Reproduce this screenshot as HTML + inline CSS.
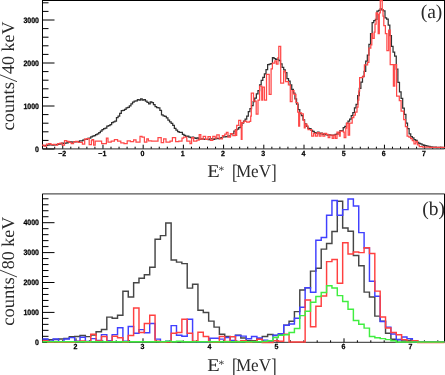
<!DOCTYPE html>
<html><head><meta charset="utf-8"><style>
html,body{margin:0;padding:0;background:#fff;}
body{width:445px;height:375px;overflow:hidden;position:relative;font-family:"Liberation Sans",sans-serif;}
#w{position:absolute;left:0;top:0;width:445px;height:375px;will-change:transform;}
svg{position:absolute;left:0;top:0;}
</style></head><body>
<div id="w"><svg width="445" height="375" viewBox="0 0 445 375">
<line x1="42.50" y1="0.50" x2="444.50" y2="0.50" stroke="#000" stroke-width="1"/>
<line x1="42.50" y1="0.00" x2="42.50" y2="149.00" stroke="#000" stroke-width="1"/>
<line x1="444.50" y1="0.00" x2="444.50" y2="149.00" stroke="#000" stroke-width="1"/>
<line x1="42.50" y1="148.80" x2="444.50" y2="148.80" stroke="#555" stroke-width="1.3"/>
<line x1="42.50" y1="193.80" x2="444.50" y2="193.80" stroke="#555" stroke-width="1.2"/>
<line x1="42.50" y1="193.80" x2="42.50" y2="342.30" stroke="#000" stroke-width="1"/>
<line x1="444.50" y1="193.80" x2="444.50" y2="342.30" stroke="#000" stroke-width="1"/>
<line x1="42.50" y1="342.30" x2="444.50" y2="342.30" stroke="#555" stroke-width="1.2"/>
<line x1="42.50" y1="149.00" x2="54.50" y2="149.00" stroke="#000" stroke-width="1"/>
<line x1="42.50" y1="140.40" x2="48.50" y2="140.40" stroke="#000" stroke-width="1"/>
<line x1="42.50" y1="131.80" x2="48.50" y2="131.80" stroke="#000" stroke-width="1"/>
<line x1="42.50" y1="123.20" x2="48.50" y2="123.20" stroke="#000" stroke-width="1"/>
<line x1="42.50" y1="114.60" x2="48.50" y2="114.60" stroke="#000" stroke-width="1"/>
<line x1="42.50" y1="106.00" x2="54.50" y2="106.00" stroke="#000" stroke-width="1"/>
<line x1="42.50" y1="97.40" x2="48.50" y2="97.40" stroke="#000" stroke-width="1"/>
<line x1="42.50" y1="88.80" x2="48.50" y2="88.80" stroke="#000" stroke-width="1"/>
<line x1="42.50" y1="80.20" x2="48.50" y2="80.20" stroke="#000" stroke-width="1"/>
<line x1="42.50" y1="71.60" x2="48.50" y2="71.60" stroke="#000" stroke-width="1"/>
<line x1="42.50" y1="63.00" x2="54.50" y2="63.00" stroke="#000" stroke-width="1"/>
<line x1="42.50" y1="54.40" x2="48.50" y2="54.40" stroke="#000" stroke-width="1"/>
<line x1="42.50" y1="45.80" x2="48.50" y2="45.80" stroke="#000" stroke-width="1"/>
<line x1="42.50" y1="37.20" x2="48.50" y2="37.20" stroke="#000" stroke-width="1"/>
<line x1="42.50" y1="28.60" x2="48.50" y2="28.60" stroke="#000" stroke-width="1"/>
<line x1="42.50" y1="20.00" x2="54.50" y2="20.00" stroke="#000" stroke-width="1"/>
<line x1="42.50" y1="11.40" x2="48.50" y2="11.40" stroke="#000" stroke-width="1"/>
<line x1="42.50" y1="2.80" x2="48.50" y2="2.80" stroke="#000" stroke-width="1"/>
<line x1="46.67" y1="148.70" x2="46.67" y2="146.70" stroke="#000" stroke-width="1"/>
<line x1="54.71" y1="148.70" x2="54.71" y2="146.70" stroke="#000" stroke-width="1"/>
<line x1="62.75" y1="148.70" x2="62.75" y2="144.70" stroke="#000" stroke-width="1"/>
<line x1="70.80" y1="148.70" x2="70.80" y2="146.70" stroke="#000" stroke-width="1"/>
<line x1="78.84" y1="148.70" x2="78.84" y2="146.70" stroke="#000" stroke-width="1"/>
<line x1="86.88" y1="148.70" x2="86.88" y2="146.70" stroke="#000" stroke-width="1"/>
<line x1="94.92" y1="148.70" x2="94.92" y2="146.70" stroke="#000" stroke-width="1"/>
<line x1="102.97" y1="148.70" x2="102.97" y2="144.70" stroke="#000" stroke-width="1"/>
<line x1="111.01" y1="148.70" x2="111.01" y2="146.70" stroke="#000" stroke-width="1"/>
<line x1="119.05" y1="148.70" x2="119.05" y2="146.70" stroke="#000" stroke-width="1"/>
<line x1="127.09" y1="148.70" x2="127.09" y2="146.70" stroke="#000" stroke-width="1"/>
<line x1="135.13" y1="148.70" x2="135.13" y2="146.70" stroke="#000" stroke-width="1"/>
<line x1="143.18" y1="148.70" x2="143.18" y2="144.70" stroke="#000" stroke-width="1"/>
<line x1="151.22" y1="148.70" x2="151.22" y2="146.70" stroke="#000" stroke-width="1"/>
<line x1="159.26" y1="148.70" x2="159.26" y2="146.70" stroke="#000" stroke-width="1"/>
<line x1="167.30" y1="148.70" x2="167.30" y2="146.70" stroke="#000" stroke-width="1"/>
<line x1="175.34" y1="148.70" x2="175.34" y2="146.70" stroke="#000" stroke-width="1"/>
<line x1="183.39" y1="148.70" x2="183.39" y2="144.70" stroke="#000" stroke-width="1"/>
<line x1="191.43" y1="148.70" x2="191.43" y2="146.70" stroke="#000" stroke-width="1"/>
<line x1="199.47" y1="148.70" x2="199.47" y2="146.70" stroke="#000" stroke-width="1"/>
<line x1="207.51" y1="148.70" x2="207.51" y2="146.70" stroke="#000" stroke-width="1"/>
<line x1="215.55" y1="148.70" x2="215.55" y2="146.70" stroke="#000" stroke-width="1"/>
<line x1="223.59" y1="148.70" x2="223.59" y2="144.70" stroke="#000" stroke-width="1"/>
<line x1="231.64" y1="148.70" x2="231.64" y2="146.70" stroke="#000" stroke-width="1"/>
<line x1="239.68" y1="148.70" x2="239.68" y2="146.70" stroke="#000" stroke-width="1"/>
<line x1="247.72" y1="148.70" x2="247.72" y2="146.70" stroke="#000" stroke-width="1"/>
<line x1="255.76" y1="148.70" x2="255.76" y2="146.70" stroke="#000" stroke-width="1"/>
<line x1="263.81" y1="148.70" x2="263.81" y2="144.70" stroke="#000" stroke-width="1"/>
<line x1="271.85" y1="148.70" x2="271.85" y2="146.70" stroke="#000" stroke-width="1"/>
<line x1="279.89" y1="148.70" x2="279.89" y2="146.70" stroke="#000" stroke-width="1"/>
<line x1="287.93" y1="148.70" x2="287.93" y2="146.70" stroke="#000" stroke-width="1"/>
<line x1="295.97" y1="148.70" x2="295.97" y2="146.70" stroke="#000" stroke-width="1"/>
<line x1="304.01" y1="148.70" x2="304.01" y2="144.70" stroke="#000" stroke-width="1"/>
<line x1="312.06" y1="148.70" x2="312.06" y2="146.70" stroke="#000" stroke-width="1"/>
<line x1="320.10" y1="148.70" x2="320.10" y2="146.70" stroke="#000" stroke-width="1"/>
<line x1="328.14" y1="148.70" x2="328.14" y2="146.70" stroke="#000" stroke-width="1"/>
<line x1="336.18" y1="148.70" x2="336.18" y2="146.70" stroke="#000" stroke-width="1"/>
<line x1="344.22" y1="148.70" x2="344.22" y2="144.70" stroke="#000" stroke-width="1"/>
<line x1="352.27" y1="148.70" x2="352.27" y2="146.70" stroke="#000" stroke-width="1"/>
<line x1="360.31" y1="148.70" x2="360.31" y2="146.70" stroke="#000" stroke-width="1"/>
<line x1="368.35" y1="148.70" x2="368.35" y2="146.70" stroke="#000" stroke-width="1"/>
<line x1="376.39" y1="148.70" x2="376.39" y2="146.70" stroke="#000" stroke-width="1"/>
<line x1="384.44" y1="148.70" x2="384.44" y2="144.70" stroke="#000" stroke-width="1"/>
<line x1="392.48" y1="148.70" x2="392.48" y2="146.70" stroke="#000" stroke-width="1"/>
<line x1="400.52" y1="148.70" x2="400.52" y2="146.70" stroke="#000" stroke-width="1"/>
<line x1="408.56" y1="148.70" x2="408.56" y2="146.70" stroke="#000" stroke-width="1"/>
<line x1="416.60" y1="148.70" x2="416.60" y2="146.70" stroke="#000" stroke-width="1"/>
<line x1="424.64" y1="148.70" x2="424.64" y2="144.70" stroke="#000" stroke-width="1"/>
<line x1="432.69" y1="148.70" x2="432.69" y2="146.70" stroke="#000" stroke-width="1"/>
<line x1="440.73" y1="148.70" x2="440.73" y2="146.70" stroke="#000" stroke-width="1"/>
<line x1="42.50" y1="342.30" x2="54.50" y2="342.30" stroke="#000" stroke-width="1"/>
<line x1="42.50" y1="336.32" x2="48.50" y2="336.32" stroke="#000" stroke-width="1"/>
<line x1="42.50" y1="330.34" x2="48.50" y2="330.34" stroke="#000" stroke-width="1"/>
<line x1="42.50" y1="324.36" x2="48.50" y2="324.36" stroke="#000" stroke-width="1"/>
<line x1="42.50" y1="318.38" x2="48.50" y2="318.38" stroke="#000" stroke-width="1"/>
<line x1="42.50" y1="312.40" x2="54.50" y2="312.40" stroke="#000" stroke-width="1"/>
<line x1="42.50" y1="306.42" x2="48.50" y2="306.42" stroke="#000" stroke-width="1"/>
<line x1="42.50" y1="300.44" x2="48.50" y2="300.44" stroke="#000" stroke-width="1"/>
<line x1="42.50" y1="294.46" x2="48.50" y2="294.46" stroke="#000" stroke-width="1"/>
<line x1="42.50" y1="288.48" x2="48.50" y2="288.48" stroke="#000" stroke-width="1"/>
<line x1="42.50" y1="282.50" x2="54.50" y2="282.50" stroke="#000" stroke-width="1"/>
<line x1="42.50" y1="276.52" x2="48.50" y2="276.52" stroke="#000" stroke-width="1"/>
<line x1="42.50" y1="270.54" x2="48.50" y2="270.54" stroke="#000" stroke-width="1"/>
<line x1="42.50" y1="264.56" x2="48.50" y2="264.56" stroke="#000" stroke-width="1"/>
<line x1="42.50" y1="258.58" x2="48.50" y2="258.58" stroke="#000" stroke-width="1"/>
<line x1="42.50" y1="252.60" x2="54.50" y2="252.60" stroke="#000" stroke-width="1"/>
<line x1="42.50" y1="246.62" x2="48.50" y2="246.62" stroke="#000" stroke-width="1"/>
<line x1="42.50" y1="240.64" x2="48.50" y2="240.64" stroke="#000" stroke-width="1"/>
<line x1="42.50" y1="234.66" x2="48.50" y2="234.66" stroke="#000" stroke-width="1"/>
<line x1="42.50" y1="228.68" x2="48.50" y2="228.68" stroke="#000" stroke-width="1"/>
<line x1="42.50" y1="222.70" x2="54.50" y2="222.70" stroke="#000" stroke-width="1"/>
<line x1="42.50" y1="216.72" x2="48.50" y2="216.72" stroke="#000" stroke-width="1"/>
<line x1="42.50" y1="210.74" x2="48.50" y2="210.74" stroke="#000" stroke-width="1"/>
<line x1="42.50" y1="204.76" x2="48.50" y2="204.76" stroke="#000" stroke-width="1"/>
<line x1="42.50" y1="198.78" x2="48.50" y2="198.78" stroke="#000" stroke-width="1"/>
<line x1="49.20" y1="342.30" x2="49.20" y2="340.30" stroke="#000" stroke-width="1"/>
<line x1="62.60" y1="342.30" x2="62.60" y2="340.30" stroke="#000" stroke-width="1"/>
<line x1="76.00" y1="342.30" x2="76.00" y2="338.30" stroke="#000" stroke-width="1"/>
<line x1="89.40" y1="342.30" x2="89.40" y2="340.30" stroke="#000" stroke-width="1"/>
<line x1="102.80" y1="342.30" x2="102.80" y2="340.30" stroke="#000" stroke-width="1"/>
<line x1="116.20" y1="342.30" x2="116.20" y2="340.30" stroke="#000" stroke-width="1"/>
<line x1="129.60" y1="342.30" x2="129.60" y2="340.30" stroke="#000" stroke-width="1"/>
<line x1="143.00" y1="342.30" x2="143.00" y2="338.30" stroke="#000" stroke-width="1"/>
<line x1="156.40" y1="342.30" x2="156.40" y2="340.30" stroke="#000" stroke-width="1"/>
<line x1="169.80" y1="342.30" x2="169.80" y2="340.30" stroke="#000" stroke-width="1"/>
<line x1="183.20" y1="342.30" x2="183.20" y2="340.30" stroke="#000" stroke-width="1"/>
<line x1="196.60" y1="342.30" x2="196.60" y2="340.30" stroke="#000" stroke-width="1"/>
<line x1="210.00" y1="342.30" x2="210.00" y2="338.30" stroke="#000" stroke-width="1"/>
<line x1="223.40" y1="342.30" x2="223.40" y2="340.30" stroke="#000" stroke-width="1"/>
<line x1="236.80" y1="342.30" x2="236.80" y2="340.30" stroke="#000" stroke-width="1"/>
<line x1="250.20" y1="342.30" x2="250.20" y2="340.30" stroke="#000" stroke-width="1"/>
<line x1="263.60" y1="342.30" x2="263.60" y2="340.30" stroke="#000" stroke-width="1"/>
<line x1="277.00" y1="342.30" x2="277.00" y2="338.30" stroke="#000" stroke-width="1"/>
<line x1="290.40" y1="342.30" x2="290.40" y2="340.30" stroke="#000" stroke-width="1"/>
<line x1="303.80" y1="342.30" x2="303.80" y2="340.30" stroke="#000" stroke-width="1"/>
<line x1="317.20" y1="342.30" x2="317.20" y2="340.30" stroke="#000" stroke-width="1"/>
<line x1="330.60" y1="342.30" x2="330.60" y2="340.30" stroke="#000" stroke-width="1"/>
<line x1="344.00" y1="342.30" x2="344.00" y2="338.30" stroke="#000" stroke-width="1"/>
<line x1="357.40" y1="342.30" x2="357.40" y2="340.30" stroke="#000" stroke-width="1"/>
<line x1="370.80" y1="342.30" x2="370.80" y2="340.30" stroke="#000" stroke-width="1"/>
<line x1="384.20" y1="342.30" x2="384.20" y2="340.30" stroke="#000" stroke-width="1"/>
<line x1="397.60" y1="342.30" x2="397.60" y2="340.30" stroke="#000" stroke-width="1"/>
<line x1="411.00" y1="342.30" x2="411.00" y2="338.30" stroke="#000" stroke-width="1"/>
<line x1="424.40" y1="342.30" x2="424.40" y2="340.30" stroke="#000" stroke-width="1"/>
<line x1="437.80" y1="342.30" x2="437.80" y2="340.30" stroke="#000" stroke-width="1"/>
<text font-family="Liberation Sans" font-weight="bold" font-size="7.8" text-rendering="geometricPrecision" stroke="#000" stroke-width="0.25" text-anchor="end" transform="translate(39.00,151.75) scale(0.9,1)">0</text>
<text font-family="Liberation Sans" font-weight="bold" font-size="7.8" text-rendering="geometricPrecision" stroke="#000" stroke-width="0.25" text-anchor="end" transform="translate(39.00,108.75) scale(0.9,1)">1000</text>
<text font-family="Liberation Sans" font-weight="bold" font-size="7.8" text-rendering="geometricPrecision" stroke="#000" stroke-width="0.25" text-anchor="end" transform="translate(39.00,65.75) scale(0.9,1)">2000</text>
<text font-family="Liberation Sans" font-weight="bold" font-size="7.8" text-rendering="geometricPrecision" stroke="#000" stroke-width="0.25" text-anchor="end" transform="translate(39.00,22.75) scale(0.9,1)">3000</text>
<text font-family="Liberation Sans" font-weight="bold" font-size="7.8" text-rendering="geometricPrecision" stroke="#000" stroke-width="0.25" text-anchor="end" transform="translate(39.00,345.05) scale(0.9,1)">0</text>
<text font-family="Liberation Sans" font-weight="bold" font-size="7.8" text-rendering="geometricPrecision" stroke="#000" stroke-width="0.25" text-anchor="end" transform="translate(39.00,315.15) scale(0.9,1)">1000</text>
<text font-family="Liberation Sans" font-weight="bold" font-size="7.8" text-rendering="geometricPrecision" stroke="#000" stroke-width="0.25" text-anchor="end" transform="translate(39.00,285.25) scale(0.9,1)">2000</text>
<text font-family="Liberation Sans" font-weight="bold" font-size="7.8" text-rendering="geometricPrecision" stroke="#000" stroke-width="0.25" text-anchor="end" transform="translate(39.00,255.35) scale(0.9,1)">3000</text>
<text font-family="Liberation Sans" font-weight="bold" font-size="7.8" text-rendering="geometricPrecision" stroke="#000" stroke-width="0.25" text-anchor="end" transform="translate(39.00,225.45) scale(0.9,1)">4000</text>
<text font-family="Liberation Sans" font-weight="bold" font-size="7.4" text-rendering="geometricPrecision" stroke="#000" stroke-width="0.25" text-anchor="middle" transform="translate(62.15,155.90) scale(0.95,1)">&#8722;2</text>
<text font-family="Liberation Sans" font-weight="bold" font-size="7.4" text-rendering="geometricPrecision" stroke="#000" stroke-width="0.25" text-anchor="middle" transform="translate(102.37,155.90) scale(0.95,1)">&#8722;1</text>
<text font-family="Liberation Sans" font-weight="bold" font-size="7.4" text-rendering="geometricPrecision" stroke="#000" stroke-width="0.25" text-anchor="middle" transform="translate(142.58,155.90) scale(0.95,1)">0</text>
<text font-family="Liberation Sans" font-weight="bold" font-size="7.4" text-rendering="geometricPrecision" stroke="#000" stroke-width="0.25" text-anchor="middle" transform="translate(182.79,155.90) scale(0.95,1)">1</text>
<text font-family="Liberation Sans" font-weight="bold" font-size="7.4" text-rendering="geometricPrecision" stroke="#000" stroke-width="0.25" text-anchor="middle" transform="translate(223.00,155.90) scale(0.95,1)">2</text>
<text font-family="Liberation Sans" font-weight="bold" font-size="7.4" text-rendering="geometricPrecision" stroke="#000" stroke-width="0.25" text-anchor="middle" transform="translate(263.20,155.90) scale(0.95,1)">3</text>
<text font-family="Liberation Sans" font-weight="bold" font-size="7.4" text-rendering="geometricPrecision" stroke="#000" stroke-width="0.25" text-anchor="middle" transform="translate(303.41,155.90) scale(0.95,1)">4</text>
<text font-family="Liberation Sans" font-weight="bold" font-size="7.4" text-rendering="geometricPrecision" stroke="#000" stroke-width="0.25" text-anchor="middle" transform="translate(343.62,155.90) scale(0.95,1)">5</text>
<text font-family="Liberation Sans" font-weight="bold" font-size="7.4" text-rendering="geometricPrecision" stroke="#000" stroke-width="0.25" text-anchor="middle" transform="translate(383.83,155.90) scale(0.95,1)">6</text>
<text font-family="Liberation Sans" font-weight="bold" font-size="7.4" text-rendering="geometricPrecision" stroke="#000" stroke-width="0.25" text-anchor="middle" transform="translate(424.04,155.90) scale(0.95,1)">7</text>
<text font-family="Liberation Sans" font-weight="bold" font-size="7.4" text-rendering="geometricPrecision" stroke="#000" stroke-width="0.25" text-anchor="middle" transform="translate(75.40,349.00) scale(0.95,1)">2</text>
<text font-family="Liberation Sans" font-weight="bold" font-size="7.4" text-rendering="geometricPrecision" stroke="#000" stroke-width="0.25" text-anchor="middle" transform="translate(142.40,349.00) scale(0.95,1)">3</text>
<text font-family="Liberation Sans" font-weight="bold" font-size="7.4" text-rendering="geometricPrecision" stroke="#000" stroke-width="0.25" text-anchor="middle" transform="translate(209.40,349.00) scale(0.95,1)">4</text>
<text font-family="Liberation Sans" font-weight="bold" font-size="7.4" text-rendering="geometricPrecision" stroke="#000" stroke-width="0.25" text-anchor="middle" transform="translate(276.40,349.00) scale(0.95,1)">5</text>
<text font-family="Liberation Sans" font-weight="bold" font-size="7.4" text-rendering="geometricPrecision" stroke="#000" stroke-width="0.25" text-anchor="middle" transform="translate(343.40,349.00) scale(0.95,1)">6</text>
<text font-family="Liberation Sans" font-weight="bold" font-size="7.4" text-rendering="geometricPrecision" stroke="#000" stroke-width="0.25" text-anchor="middle" transform="translate(410.40,349.00) scale(0.95,1)">7</text>
<text font-family="Liberation Serif" fill="#2a2a2a" text-rendering="geometricPrecision" font-size="18" transform="translate(207.2,177.10) scale(1.13,1.0)">E</text>
<text font-family="Liberation Serif" fill="#2a2a2a" text-rendering="geometricPrecision" font-size="11.5" transform="translate(218.6,174.30)">*</text>
<text font-family="Liberation Serif" fill="#2a2a2a" text-rendering="geometricPrecision" font-size="18" transform="translate(232.0,179.40) scale(0.9,1.16)">[</text>
<text font-family="Liberation Serif" fill="#2a2a2a" text-rendering="geometricPrecision" font-size="18" transform="translate(235.9,177.10) scale(0.95,1)">MeV</text>
<text font-family="Liberation Serif" fill="#2a2a2a" text-rendering="geometricPrecision" font-size="18" transform="translate(271.2,179.40) scale(0.9,1.16)">]</text>
<text font-family="Liberation Serif" fill="#2a2a2a" text-rendering="geometricPrecision" font-size="18" transform="translate(207.2,371.00) scale(1.13,1.0)">E</text>
<text font-family="Liberation Serif" fill="#2a2a2a" text-rendering="geometricPrecision" font-size="11.5" transform="translate(218.6,368.20)">*</text>
<text font-family="Liberation Serif" fill="#2a2a2a" text-rendering="geometricPrecision" font-size="18" transform="translate(232.0,373.30) scale(0.9,1.16)">[</text>
<text font-family="Liberation Serif" fill="#2a2a2a" text-rendering="geometricPrecision" font-size="18" transform="translate(235.9,371.00) scale(0.95,1)">MeV</text>
<text font-family="Liberation Serif" fill="#2a2a2a" text-rendering="geometricPrecision" font-size="18" transform="translate(271.2,373.30) scale(0.9,1.16)">]</text>
<text font-family="Liberation Serif" fill="#2a2a2a" text-rendering="geometricPrecision" font-size="18" transform="translate(13.7,130.50) rotate(-90) scale(1.03,1)">counts</text>
<text font-family="Liberation Serif" fill="#2a2a2a" text-rendering="geometricPrecision" font-size="18" transform="translate(13.7,74.00) rotate(-90)">40 keV</text>
<line x1="-0.5" y1="74.60" x2="17.0" y2="81.70" stroke="#2a2a2a" stroke-width="0.9"/>
<text font-family="Liberation Serif" fill="#2a2a2a" text-rendering="geometricPrecision" font-size="18" transform="translate(13.7,325.80) rotate(-90) scale(1.03,1)">counts</text>
<text font-family="Liberation Serif" fill="#2a2a2a" text-rendering="geometricPrecision" font-size="18" transform="translate(13.7,269.30) rotate(-90)">80 keV</text>
<line x1="-0.5" y1="269.90" x2="17.0" y2="277.00" stroke="#2a2a2a" stroke-width="0.9"/>
<text font-family="Liberation Serif" fill="#2a2a2a" text-rendering="geometricPrecision" font-size="19.5" x="442.3" y="18.3" text-anchor="end">(a)</text>
<text font-family="Liberation Serif" fill="#2a2a2a" text-rendering="geometricPrecision" font-size="19.5" x="445.0" y="215.4" text-anchor="end">(b)</text>
<path d="M42.50,145.63H44.11V145.60H45.72V145.31H47.32V145.13H48.93V144.90H50.54V144.92H52.15V145.06H53.76V144.81H55.36V144.73H56.97V144.33H58.58V144.11H60.19V143.82H61.80V143.18H63.40V143.48H65.01V143.16H66.62V142.92H68.23V142.16H69.84V141.96H71.44V142.01H73.05V141.95H74.66V141.99H76.27V141.69H77.88V141.51H79.48V140.88H81.09V140.80H82.70V140.22H84.31V139.30H85.92V139.41H87.52V138.48H89.13V138.09H90.74V136.89H92.35V136.21H93.96V135.68H95.56V134.74H97.17V133.92H98.78V132.65H100.39V131.15H102.00V129.70H103.60V128.66H105.21V128.21H106.82V126.14H108.43V125.50H110.04V124.52H111.64V122.56H113.25V121.95H114.86V121.10H116.47V117.61H118.08V116.06H119.68V113.37H121.29V110.73H122.90V110.34H124.51V109.40H126.12V107.98H127.72V107.45H129.33V105.88H130.94V103.95H132.55V102.08H134.16V101.03H135.76V100.88H137.37V99.54H138.98V100.02H140.59V98.79H142.20V100.01H143.80V99.72H145.41V101.17H147.02V102.25H148.63V103.76H150.24V101.98H151.84V102.65H153.45V104.56H155.06V106.69H156.67V107.72H158.28V107.86H159.88V110.39H161.49V114.87H163.10V115.84H164.71V116.44H166.32V117.77H167.92V120.17H169.53V121.90H171.14V123.26H172.75V125.42H174.36V128.33H175.96V130.13H177.57V131.52H179.18V132.29H180.79V132.28H182.40V134.47H184.00V135.48H185.61V136.34H187.22V136.15H188.83V137.00H190.44V137.68H192.04V137.05H193.65V137.82H195.26V138.44H196.87V137.99H198.48V139.15H200.08V139.02H201.69V138.91H203.30V139.15H204.91V139.35H206.52V139.29H208.12V139.58H209.73V138.95H211.34V138.92H212.95V139.25H214.56V138.85H216.16V138.34H217.77V138.57H219.38V138.42H220.99V137.50H222.60V136.88H224.20V136.95H225.81V136.63H227.42V136.17H229.03V135.79H230.64V133.97H232.24V133.55H233.85V131.18H235.46V129.94H237.07V129.03H238.68V127.50H240.28V125.36H241.89V123.11H243.50V121.00H245.11V119.04H246.72V116.20H248.32V111.64H249.93V108.65H251.54V105.59H253.15V101.66H254.76V98.22H256.36V93.81H257.97V90.52H259.58V84.89H261.19V80.49H262.80V77.31H264.40V73.84H266.01V69.51H267.62V64.69H269.23V64.11H270.84V63.68H272.44V57.73H274.05V58.59H275.66V59.39H277.27V59.00H278.88V60.66H280.48V63.78H282.09V67.38H283.70V69.88H285.31V72.60H286.92V78.52H288.52V81.21H290.13V84.87H291.74V89.27H293.35V93.18H294.96V98.87H296.56V104.19H298.17V109.53H299.78V113.56H301.39V115.71H303.00V119.87H304.60V123.92H306.21V126.36H307.82V128.33H309.43V128.69H311.04V130.42H312.64V131.31H314.25V132.55H315.86V133.15H317.47V132.05H319.08V133.76H320.68V133.17H322.29V134.28H323.90V133.85H325.51V134.64H327.12V135.18H328.72V134.89H330.33V135.12H331.94V135.40H333.55V135.24H335.16V134.26H336.76V133.79H338.37V132.55H339.98V130.73H341.59V130.64H343.20V127.68H344.80V126.30H346.41V123.35H348.02V121.13H349.63V119.01H351.24V115.64H352.84V112.67H354.45V107.91H356.06V104.37H357.67V95.71H359.28V88.34H360.88V82.00H362.49V76.57H364.10V71.40H365.71V61.06H367.32V55.14H368.92V44.29H370.53V33.69H372.14V22.73H373.75V20.59H375.36V19.35H376.96V11.11H378.57V10.30H380.18V8.87H381.79V9.99H383.40V10.85H385.00V17.92H386.61V19.16H388.22V25.23H389.83V35.72H391.44V46.34H393.04V52.04H394.65V56.11H396.26V69.00H397.87V82.34H399.48V91.86H401.08V98.36H402.69V108.24H404.30V114.28H405.91V123.20H407.52V128.73H409.12V133.77H410.73V136.65H412.34V137.83H413.95V139.61H415.56V140.42H417.16V142.31H418.77V143.31H420.38V143.92H421.99V144.82H423.60V145.39H425.20V145.66H426.81V146.24H428.42V146.38H430.03V146.80H431.64V147.06H433.24V147.28H434.85V147.19H436.46V147.53H438.07V147.27H439.68V147.43H441.28V147.39H442.89V147.78H444.50" fill="none" stroke="#303030" stroke-width="1.25"/>
<path d="M42.00,145.20H44.20V146.10H46.50V144.10H48.70V143.50H51.00V144.70H53.20V144.30H55.50V145.20H57.70V143.50H60.00V143.00H62.20V145.20H64.50V140.70H66.70V141.30H69.00V142.40H71.20V143.50H73.50V141.90H75.70V141.30H78.00V142.40H80.20V142.40H82.40V144.10H84.70V139.00H86.90V138.50H89.20V144.70H91.40V140.70H92.00V139.60H93.60V145.20H95.20V141.20H100.00V141.20H101.60V143.60H106.40V138.00H108.00V142.00H111.20V141.20H114.40V139.60H117.60V141.20H120.80V142.80H124.00V143.60H127.20V140.90H130.40V141.50H133.60V139.90H136.00V142.00H140.00V136.40H142.00V137.20H144.40V142.00H146.80V138.80H148.40V140.90H151.60V141.20H158.00V137.70H161.20V142.50H163.60V138.80H166.00V142.00H170.00V141.20H172.40V137.70H175.60V141.50H178.80V141.00H182.00V138.00H183.60V137.20H186.80V141.20H190.00V143.60H191.60V138.00H192.00V137.70H193.60V141.20H196.80V140.00H199.20V134.50H200.80V139.00H203.20V136.40H205.60V139.30H208.00V136.70H210.40V140.40H212.80V136.40H215.20V138.00H216.80V134.80H219.20V138.80H222.40V135.60H224.80V134.00H226.40V132.40H228.00V137.20H230.40V133.50H232.80V135.60H235.20V130.00H236.00V135.30H236.70V125.30H238.70V120.40H240.70V126.00H241.30V139.30H242.00V122.70H244.00V121.00H246.70V122.00H249.30V121.30H250.70V116.00H251.30V93.00H253.50V101.00H256.20V114.00H258.00V100.00H259.60V86.00H261.80V100.00H262.60V87.00H264.40V100.00H266.50V74.40H269.20V94.40H271.10V68.80H272.40V63.20H274.80V60.80H276.40V64.00H278.00V57.60H278.80V46.40H280.70V83.20H283.60V71.20H285.50V81.60H288.40V84.80H290.30V101.70H292.10V90.50H294.00V94.30H295.90V102.60H297.70V112.00H298.70V126.00H299.60V112.90H301.50V113.80H303.30V120.40H304.30V127.80H305.20V124.00H307.00V126.00H308.00V129.70H311.70V136.20H313.60V133.40H315.40V136.20H317.30V132.50H319.20V136.20H321.00V133.40H322.90V136.20H324.80V133.40H326.60V134.40H328.20V137.60H329.80V135.20H332.20V138.40H333.80V135.20H335.40V138.40H337.00V132.00H338.60V133.60H339.40V136.00H340.20V131.20H343.40V132.00H344.20V137.60H345.80V128.00H346.60V123.20H348.20V135.20H349.60V123.20H352.20V117.60H353.80V115.20H355.40V112.00H357.00V107.20H358.00V100.00H358.80V91.20H359.60V77.60H362.80V76.00H364.40V64.80H367.60V62.40H368.90V48.00H370.80V44.80H371.80V33.60H372.60V38.40H374.20V32.00H375.00V24.00H376.10V12.80H377.40V14.40H378.20V33.60H379.30V12.80H380.30V0.50H382.20V9.60H383.00V16.00H383.80V25.60H385.40V33.60H386.90V50.50H388.70V30.00H390.20V64.50H393.40V86.00H394.70V64.50H396.60V96.20H399.30V100.60H401.10V111.00H403.70V119.70H405.40V126.60H407.10V136.10H408.90V137.00H410.60V138.70H412.30V140.50H414.00V143.90H415.80V141.30H417.50V144.80H419.30V146.50H422.70V147.00H429.70V147.40H444.50V147.70H444.50" fill="none" stroke="#ff4848" stroke-width="1.25"/>
<path d="M42.50,339.50H47.86V339.80H53.22V339.40H58.58V338.90H63.94V338.50H69.30V336.70H74.66V336.40H80.02V335.50H85.38V336.60H90.74V335.00H96.10V331.70H101.46V329.50H106.82V317.10H112.18V318.20H117.54V315.20H122.90V291.20H128.26V297.00H133.62V282.70H138.98V278.20H144.34V274.80H149.70V267.30H155.06V239.30H160.42V235.60H165.78V222.90H171.14V259.90H176.50V262.10H181.86V263.60H187.22V288.10H192.58V284.30H197.94V310.20H203.30V312.50H208.66V321.10H214.02V327.10H219.38V334.20H224.74V336.50H230.10V336.60H235.46V335.30H240.82V337.90H246.18V340.60H251.54V340.60H256.90V338.80H262.26V336.50H267.62V334.40H272.98V335.40H278.34V334.10H283.70V325.20H289.06V321.20H294.42V311.60H299.78V289.90H305.14V287.70H310.50V271.10H315.86V268.20H321.22V249.10H326.58V243.40H331.94V231.40H337.30V201.30H342.66V227.90H348.02V231.20H353.38V255.40H358.74V265.80H364.10V292.10H369.46V297.00H374.82V316.10H380.18V321.30H385.54V333.20H390.90V339.20H396.26V339.50H401.62V341.00H406.98V340.50H412.34V341.00H417.70V342.00H423.06V342.00H428.42V342.00H433.78V342.00H439.14V342.00H444.50" fill="none" stroke="#464646" stroke-width="1.45"/>
<path d="M42.50,338.90H47.86V341.20H53.22V338.90H58.58V341.60H63.94V338.90H69.30V337.60H74.66V341.20H80.02V337.30H85.38V341.40H90.74V338.60H96.10V340.50H101.46V334.60H106.82V340.80H112.18V334.60H117.54V327.80H122.90V341.30H128.26V326.40H133.62V333.30H138.98V329.60H144.34V332.80H149.70V323.40H155.06V339.10H160.42V341.60H165.78V341.30H171.14V325.60H176.50V335.20H181.86V336.20H187.22V319.30H192.58V341.60H197.94V341.80H203.30V341.80H208.66V338.30H214.02V338.30H219.38V339.10H224.74V337.50H230.10V340.50H235.46V335.40H240.82V336.10H246.18V338.80H251.54V336.50H256.90V337.90H262.26V340.10H267.62V341.50H272.98V335.20H278.34V333.80H283.70V325.20H289.06V324.00H294.42V318.20H299.78V307.30H305.14V287.70H310.50V292.20H315.86V240.20H321.22V237.50H326.58V215.20H331.94V200.50H337.30V215.30H342.66V209.60H348.02V198.90H353.38V205.90H358.74V232.60H364.10V248.00H369.46V281.30H374.82V296.20H380.18V321.50H385.54V327.10H390.90V333.90H396.26V339.80H401.62V337.00H406.98V338.60H412.34V341.50H417.70V342.30H423.06V342.30H428.42V342.30H433.78V342.30H439.14V342.30H444.50" fill="none" stroke="#4040ff" stroke-width="1.45"/>
<path d="M42.50,340.70H47.86V342.30H53.22V342.10H58.58V342.30H63.94V342.30H69.30V342.30H74.66V341.50H80.02V340.90H85.38V342.00H90.74V334.20H96.10V341.00H101.46V336.50H106.82V341.40H112.18V336.20H117.54V337.70H122.90V342.00H128.26V335.50H133.62V307.90H138.98V332.50H144.34V323.40H149.70V315.20H155.06V341.30H160.42V342.00H165.78V342.00H171.14V333.30H176.50V332.50H181.86V319.30H187.22V333.30H192.58V341.30H197.94V332.20H203.30V336.50H208.66V341.80H214.02V342.00H219.38V336.50H224.74V341.50H230.10V336.60H235.46V341.50H240.82V340.80H246.18V342.20H251.54V341.50H256.90V339.20H262.26V342.40H267.62V342.40H272.98V340.80H278.34V341.30H283.70V334.20H289.06V342.00H294.42V342.00H299.78V342.00H305.14V299.90H310.50V326.70H315.86V306.30H321.22V296.00H326.58V261.60H331.94V259.40H337.30V283.30H342.66V242.80H348.02V253.90H353.38V252.00H358.74V252.60H364.10V247.70H369.46V253.50H374.82V291.10H380.18V317.00H385.54V328.00H390.90V332.50H396.26V334.70H401.62V339.60H406.98V341.50H412.34V340.60H417.70V342.40H423.06V342.40H428.42V342.40H433.78V342.40H439.14V342.40H444.50" fill="none" stroke="#ff4040" stroke-width="1.45"/>
<path d="M42.50,341.80H47.86V341.80H53.22V341.80H58.58V341.80H63.94V341.80H69.30V341.80H74.66V341.80H80.02V341.80H85.38V341.80H90.74V341.80H96.10V341.80H101.46V341.80H106.82V341.80H112.18V341.80H117.54V341.80H122.90V341.80H128.26V341.80H133.62V341.80H138.98V341.80H144.34V341.80H149.70V341.80H155.06V341.80H160.42V341.80H165.78V341.20H171.14V341.80H176.50V341.20H181.86V341.80H187.22V341.80H192.58V341.80H197.94V341.80H203.30V341.80H208.66V341.80H214.02V341.80H219.38V341.80H224.74V341.80H230.10V341.80H235.46V341.80H240.82V341.80H246.18V341.80H251.54V341.80H256.90V341.80H262.26V341.50H267.62V340.80H272.98V337.50H278.34V335.30H283.70V334.80H289.06V332.50H294.42V328.40H299.78V315.60H305.14V311.20H310.50V302.20H315.86V296.50H321.22V292.40H326.58V285.70H331.94V288.00H337.30V295.60H342.66V301.40H348.02V309.20H353.38V320.50H358.74V324.30H364.10V328.10H369.46V336.40H374.82V337.70H380.18V338.60H385.54V339.60H390.90V340.70H396.26V342.00H401.62V342.00H406.98V342.00H412.34V342.00H417.70V342.00H423.06V342.00H428.42V342.00H433.78V342.00H439.14V342.00H444.50" fill="none" stroke="#40ee40" stroke-width="1.45"/>
</svg></div>
</body></html>
